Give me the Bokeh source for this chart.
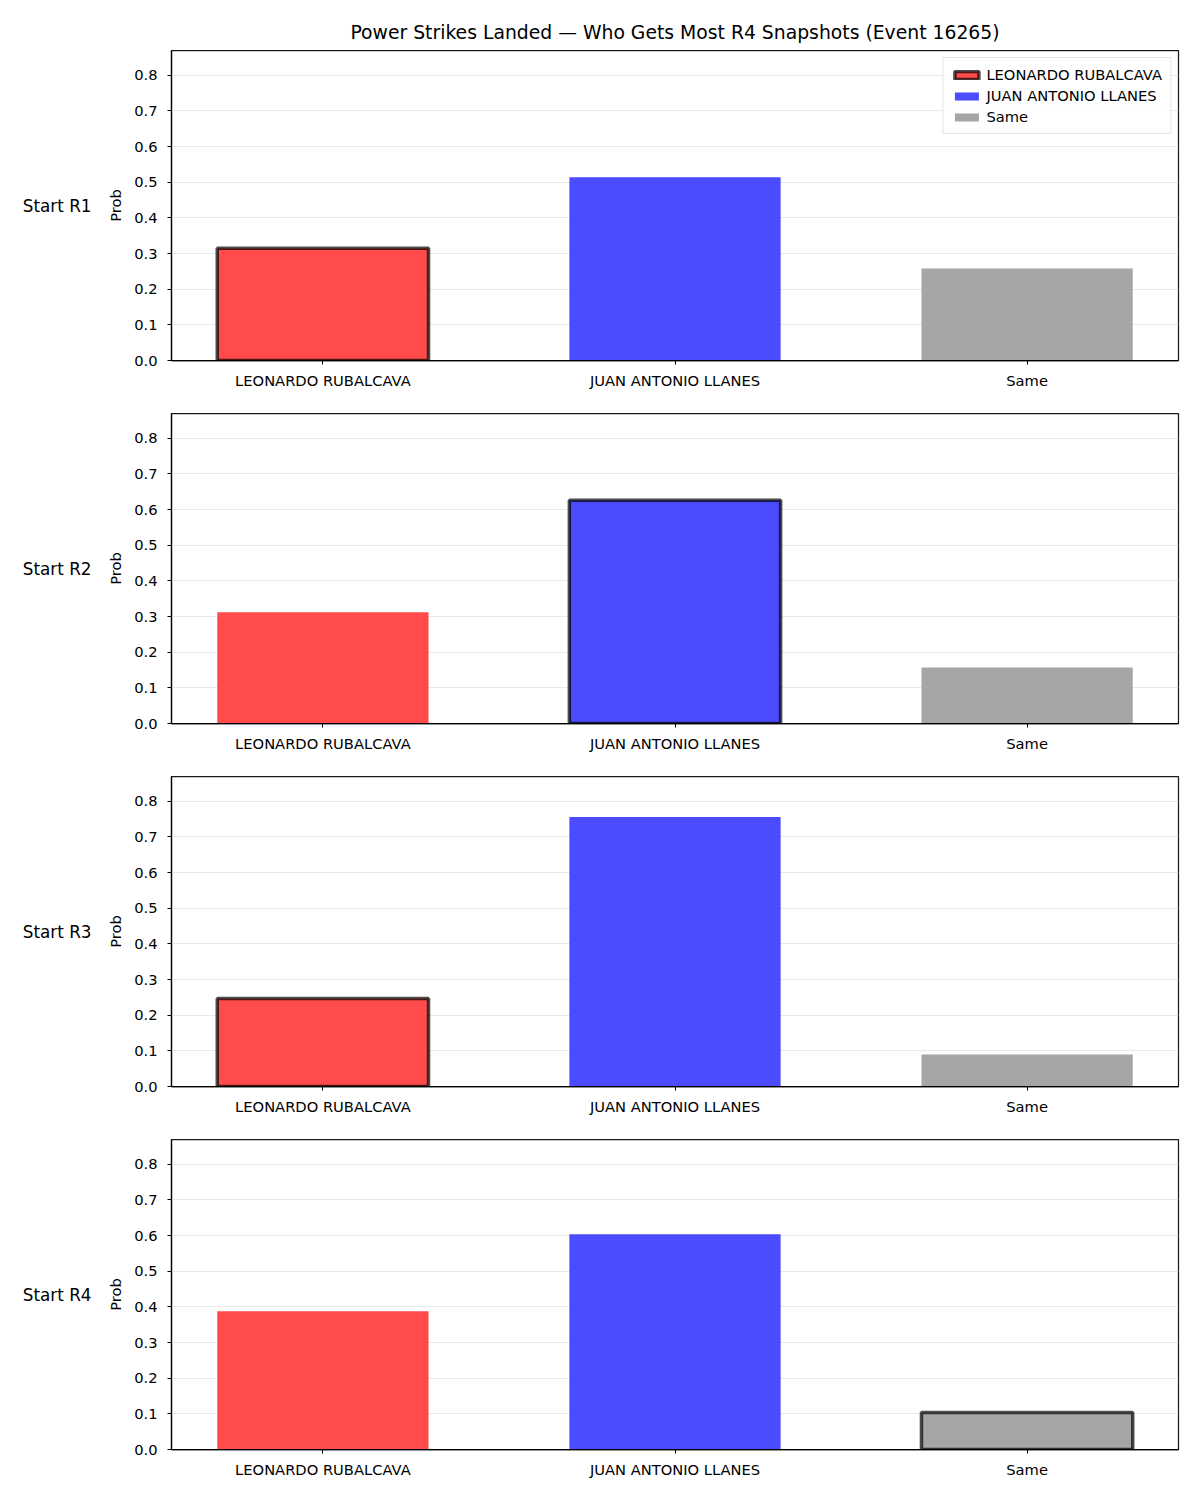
from bokeh.plotting import figure
from bokeh.layouts import column
from bokeh.models import (Range1d, FixedTicker, PrintfTickFormatter, Legend, LegendItem, LinearAxis)
from bokeh.embed import file_html
from bokeh.resources import INLINE

title_text = "Power Strikes Landed \u2014 Who Gets Most R4 Snapshots (Event 16265)"
categories = ["LEONARDO RUBALCAVA", "JUAN ANTONIO LLANES", "Same"]
panel_labels = ["Start R1", "Start R2", "Start R3", "Start R4"]
probs_r1 = [0.315, 0.514, 0.258]
probs_r2 = [0.312, 0.626, 0.157]
probs_r3 = [0.247, 0.756, 0.090]
probs_r4 = [0.388, 0.604, 0.104]
highlighted = ["LEONARDO RUBALCAVA", "JUAN ANTONIO LLANES", "LEONARDO RUBALCAVA", "Same"]
y_ticks = [0.0, 0.1, 0.2, 0.3, 0.4, 0.5, 0.6, 0.7, 0.8]

colors = ["#ff4b4b", "#4b4bff", "#a6a6a6"]
FONT = "DejaVu Sans"
TICK_FS = "14.7px"
all_probs = [probs_r1, probs_r2, probs_r3, probs_r4]
ymax = max(max(p) for p in all_probs) * 1.15

figs = []
for i, (probs, lab, hl) in enumerate(zip(all_probs, panel_labels, highlighted)):
    p = figure(frame_width=1007, frame_height=310, output_backend="svg", toolbar_location=None,
               x_range=Range1d(-0.43, 2.43), y_range=Range1d(0, ymax),
               min_border_left=171, min_border_right=22,
               min_border_top=50 if i == 0 else 1, min_border_bottom=52)
    if i == 0:
        p.title.text = title_text
        p.title.align = "center"
        p.title.text_font = FONT
        p.title.text_font_size = "18.8px"
        p.title.text_font_style = "normal"
        p.title.text_color = "black"
        p.title.standoff = 15
    renderers = []
    for j, (cat, val, col) in enumerate(zip(categories, probs, colors)):
        is_hl = (cat == hl)
        r = p.vbar(x=[j], top=[val], width=0.6, bottom=0, fill_color=col, fill_alpha=1.0,
                   line_color="black" if is_hl else "white",
                   line_alpha=0.7 if is_hl else 0.0,
                   line_width=3.5 if is_hl else 0)
        renderers.append(r)
    p.xgrid.visible = False
    p.ygrid.grid_line_color = "#e3e3e3"
    p.ygrid.grid_line_width = 0.8
    p.ygrid.ticker = FixedTicker(ticks=y_ticks)
    p.outline_line_color = "black"
    p.outline_line_width = 1.25
    p.outline_line_alpha = 0.9

    p.yaxis.ticker = FixedTicker(ticks=y_ticks)
    p.yaxis.formatter = PrintfTickFormatter(format="%.1f")
    p.yaxis.axis_label = "Prob"
    p.yaxis.axis_label_text_font = FONT
    p.yaxis.axis_label_text_font_size = TICK_FS
    p.yaxis.axis_label_text_font_style = "normal"
    p.yaxis.axis_label_text_color = "black"
    p.yaxis.axis_label_standoff = 7
    p.xaxis.ticker = FixedTicker(ticks=[0, 1, 2])
    p.xaxis.major_label_overrides = {k: c for k, c in enumerate(categories)}
    for ax in (p.xaxis, p.yaxis):
        ax.axis_line_color = "black"
        ax.axis_line_width = 1.25
        ax.major_tick_line_color = "black"
        ax.major_tick_in = 0
        ax.major_tick_out = 4
        ax.minor_tick_line_color = None
        ax.major_label_text_font = FONT
        ax.major_label_text_font_size = TICK_FS
        ax.major_label_text_color = "black"
    p.xaxis.major_label_standoff = 7
    p.yaxis.major_label_standoff = 10

    # row label as an extra, tick-less axis on the left with horizontal label
    row_axis = LinearAxis(axis_label=lab, ticker=FixedTicker(ticks=[]),
                          axis_line_color=None, major_tick_line_color=None,
                          minor_tick_line_color=None, major_label_text_font_size="0px")
    row_axis.axis_label_orientation = "horizontal"
    row_axis.axis_label_text_font = FONT
    row_axis.axis_label_text_font_size = "16.8px"
    row_axis.axis_label_text_font_style = "normal"
    row_axis.axis_label_text_color = "black"
    row_axis.axis_label_standoff = 13
    p.add_layout(row_axis, "left")

    if i == 0:
        legend = Legend(items=[LegendItem(label=c, renderers=[r]) for c, r in zip(categories, renderers)],
                        location="top_right")
        legend.label_text_font = FONT
        legend.label_text_font_size = TICK_FS
        legend.label_text_color = "black"
        legend.glyph_width = 30
        legend.glyph_height = 10
        legend.label_height = 16
        legend.spacing = 4
        legend.padding = 8
        legend.margin = 7
        legend.border_line_color = "#cccccc"
        legend.border_line_width = 1
        legend.background_fill_alpha = 0.8
        p.add_layout(legend)
    figs.append(p)

layout = column(*figs, spacing=0)
open("out.html", "w").write(file_html(layout, INLINE))
